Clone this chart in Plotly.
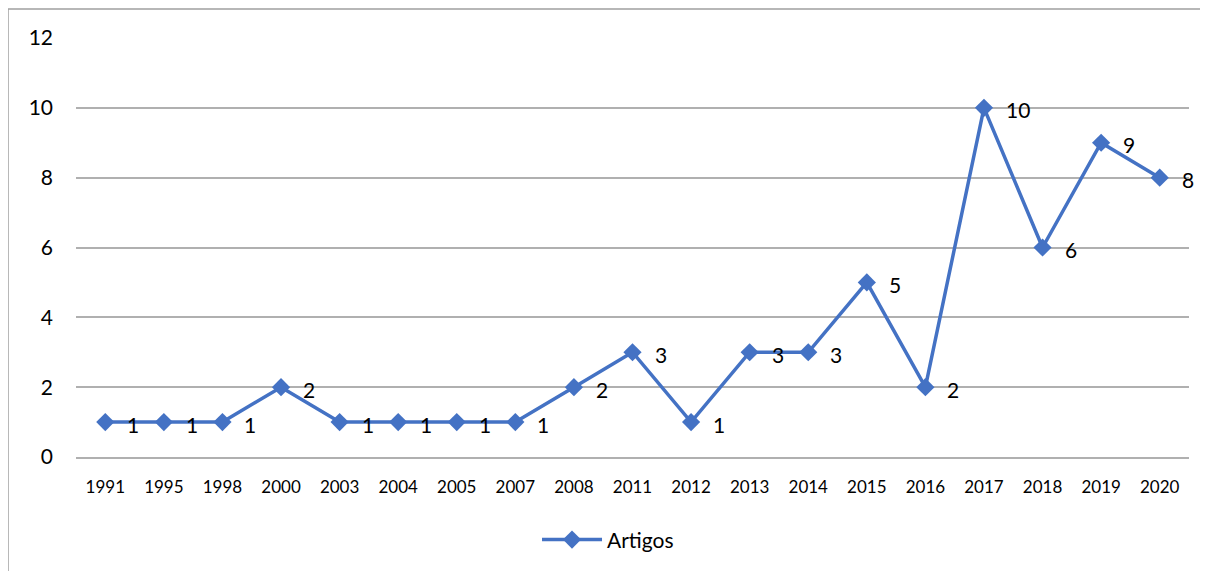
import plotly.graph_objects as go

years = ["1991", "1995", "1998", "2000", "2003", "2004", "2005", "2007", "2008", "2011",
         "2012", "2013", "2014", "2015", "2016", "2017", "2018", "2019", "2020"]
artigos = [1, 1, 1, 2, 1, 1, 1, 1, 2, 3, 1, 3, 3, 5, 2, 10, 6, 9, 8]
y_ticks = [0, 2, 4, 6, 8, 10, 12]

FONT = "Lato, Carlito, Calibri, sans-serif"
BLUE = "#4472C4"
GRID = "#b0b0b0"

fig = go.Figure()
fig.add_trace(go.Scatter(
    x=years, y=artigos, name="Artigos", mode="lines+markers",
    line=dict(color=BLUE, width=3.5),
    marker=dict(symbol="diamond", size=14, color=BLUE),
))

# category positions are indices on a category axis
annotations = [
    dict(x=i, y=yv, xref="x", yref="y", text=str(yv), showarrow=False,
         xanchor="left", yanchor="middle", xshift=20, yshift=-2,
         font=dict(family=FONT, size=21, color="#000000"))
    for i, yv in enumerate(artigos)
]

fig.update_layout(
    width=1200, height=563,
    margin=dict(l=68, r=19, t=30, b=113),
    paper_bgcolor="white", plot_bgcolor="white",
    font=dict(family=FONT, color="#000000"),
    showlegend=True,
    legend=dict(orientation="h", x=0.478, xanchor="center", y=-0.195, yanchor="middle",
                font=dict(family=FONT, size=21), itemwidth=60),
    annotations=annotations,
    shapes=[dict(type="rect", xref="paper", yref="paper",
                 x0=-0.0611, x1=1.2, y0=-0.6, y1=1.069,
                 line=dict(color="#a0a0a0", width=1.5), fillcolor="rgba(0,0,0,0)")],
)
fig.update_xaxes(type="category", range=[-0.5, len(years) - 0.5], showgrid=False,
                 showline=True, linecolor=GRID, linewidth=1.5,
                 ticks="", tickfont=dict(family=FONT, size=17), ticklabelstandoff=14)
fig.update_yaxes(range=[0, 12], tickvals=y_ticks, showgrid=True, gridcolor=GRID, gridwidth=1.5,
                 zeroline=False, showline=False, ticks="",
                 tickfont=dict(family=FONT, size=21), ticklabelstandoff=22)

fig.write_html("out.html")
